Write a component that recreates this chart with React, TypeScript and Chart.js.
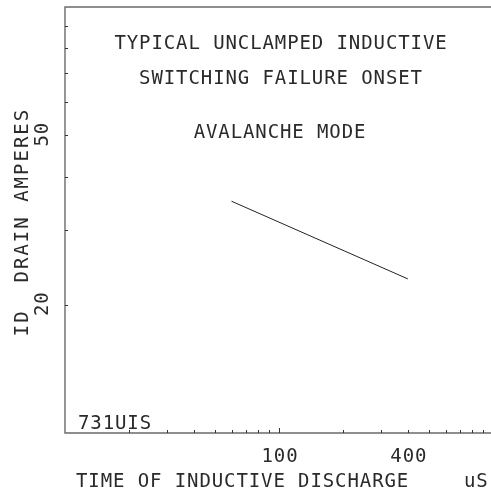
import React, { useEffect, useRef } from "react";
import { Chart, registerables } from "chart.js";

Chart.register(...registerables);

// ---- data ----
const lineX = [60, 400];
const lineY = [35, 23];
const xRange = [10, 1000];
const yRange = [10, 100];
const xMinorTicks = [20, 30, 40, 50, 60, 70, 80, 90, 200, 300, 400, 500, 600, 700, 800, 900];
const xMajorTicks = [100];
const xTickLabels = [100, 400];
const yMinorTicks = [20, 30, 40, 50, 60, 70, 80, 90];
const yTickLabels = [20, 50];
const titleLines = ["TYPICAL UNCLAMPED INDUCTIVE", "SWITCHING FAILURE ONSET"];
const subtitleText = "AVALANCHE MODE";
const xTitleText = "TIME OF INDUCTIVE DISCHARGE";
const xUnitText = "uS";
const yTitleText = "ID  DRAIN AMPERES";
const codeText = "731UIS";

const FONT = '19px "DejaVu Sans Mono", "Liberation Mono", monospace';
const TEXT_COLOR = "#2a2a2a";

const decorPlugin = {
  id: "decor",
  afterDraw(chart: any) {
    const ctx = chart.ctx as CanvasRenderingContext2D;
    const area = chart.chartArea;
    const xs = chart.scales.x;
    const ys = chart.scales.y;
    ctx.save();

    // frame
    ctx.strokeStyle = "#6a6a6a";
    ctx.lineWidth = 1.4;
    ctx.beginPath();
    ctx.moveTo(area.right + 5, area.top);
    ctx.lineTo(area.left, area.top);
    ctx.lineTo(area.left, area.bottom);
    ctx.lineTo(area.right + 5, area.bottom);
    ctx.stroke();

    // ticks
    ctx.strokeStyle = "#333";
    ctx.lineWidth = 1;
    ctx.beginPath();
    for (const v of xMinorTicks) {
      const px = Math.round(xs.getPixelForValue(v)) + 0.5;
      ctx.moveTo(px, area.bottom);
      ctx.lineTo(px, area.bottom - 3);
    }
    for (const v of xMajorTicks) {
      const px = Math.round(xs.getPixelForValue(v)) + 0.5;
      ctx.moveTo(px, area.bottom);
      ctx.lineTo(px, area.bottom - 5);
    }
    for (const v of yMinorTicks) {
      const py = Math.round(ys.getPixelForValue(v)) + 0.5;
      ctx.moveTo(area.left, py);
      ctx.lineTo(area.left + 3, py);
    }
    ctx.stroke();

    // texts
    ctx.fillStyle = TEXT_COLOR;
    ctx.font = FONT;
    (ctx as any).letterSpacing = "0.9px";
    ctx.textBaseline = "alphabetic";

    ctx.textAlign = "center";
    ctx.fillText(titleLines[0], 281, 49);
    ctx.fillText(titleLines[1], 281, 84);
    ctx.fillText(subtitleText, 280, 138);

    for (const v of xTickLabels) {
      ctx.fillText(String(v), xs.getPixelForValue(v) + 1, 462);
    }

    ctx.textAlign = "left";
    ctx.fillText(codeText, 78, 429);
    ctx.fillText(xTitleText, 76, 487);
    ctx.fillText(xUnitText, 464, 487);

    // rotated y labels
    for (const v of yTickLabels) {
      const py = ys.getPixelForValue(v);
      ctx.save();
      ctx.translate(48, py);
      ctx.rotate(-Math.PI / 2);
      ctx.textAlign = "center";
      ctx.fillText(String(v), 1, 0);
      ctx.restore();
    }
    ctx.save();
    ctx.translate(28, 222);
    ctx.rotate(-Math.PI / 2);
    (ctx as any).letterSpacing = "2px";
    ctx.textAlign = "center";
    ctx.fillText(yTitleText, 0, 0);
    ctx.restore();

    ctx.restore();
  },
};

export default function App() {
  const ref = useRef<HTMLCanvasElement | null>(null);

  useEffect(() => {
    if (!ref.current) return;
    const chart = new Chart(ref.current, {
      type: "line",
      data: {
        datasets: [
          {
            data: lineX.map((x, i) => ({ x, y: lineY[i] })),
            borderColor: "#222",
            borderWidth: 1,
            pointRadius: 0,
            fill: false,
            tension: 0,
          },
        ],
      },
      options: {
        responsive: false,
        animation: false,
        devicePixelRatio: 1,
        layout: { padding: { left: 65, top: 7, right: 1, bottom: 62 } },
        plugins: { legend: { display: false }, tooltip: { enabled: false }, title: { display: false } },
        scales: {
          x: { type: "logarithmic", min: xRange[0], max: xRange[1], display: false },
          y: { type: "logarithmic", min: yRange[0], max: yRange[1], display: false },
        },
      },
      plugins: [decorPlugin],
    });
    return () => chart.destroy();
  }, []);

  return (
    <div
      style={{
        position: "fixed",
        left: 0,
        top: 0,
        width: 491,
        height: 495,
        overflow: "hidden",
        background: "#fff",
      }}
    >
      <canvas ref={ref} width={494} height={495} style={{ display: "block", width: 494, height: 495 }} />
    </div>
  );
}
